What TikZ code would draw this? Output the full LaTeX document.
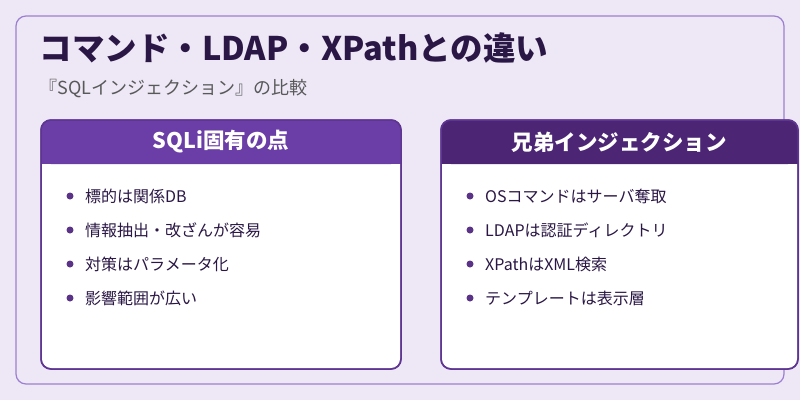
\documentclass[tikz,border=0pt]{standalone}
\usepackage{fontspec}
\setmainfont{Noto Sans CJK JP}
\usetikzlibrary{positioning}
\definecolor{bgpage}{HTML}{EDE7F6}
\definecolor{frameline}{HTML}{9C7FD0}
\definecolor{titleink}{HTML}{2A1745}
\definecolor{headleft}{HTML}{6A3EA6}
\definecolor{headright}{HTML}{4C2575}
\definecolor{cardline}{HTML}{5E3592}
\definecolor{dotink}{HTML}{5A3288}
\tikzset{
  cardbox/.style={draw=cardline,line width=1.5pt,fill=white,rounded corners=10pt},
  cardhead/.style={font=\bfseries\fontsize{21.5}{24}\selectfont,text=white},
  item/.style={anchor=west,font=\fontsize{16}{18}\selectfont,text=titleink},
  dot/.style={circle,fill=dotink,inner sep=0pt,minimum size=7pt}
}
\newcommand{\cardtop}[3]{%
  \fill[#3,rounded corners=10pt] (#1,120) rectangle (#2,164);
  \fill[#3] (#1,150) rectangle (#2,164);}
\begin{document}
\begin{tikzpicture}[x=1pt,y=-1pt]
\useasboundingbox (0,0) rectangle (800,400);
\fill[bgpage] (0,0) rectangle (800,400);
\draw[frameline,line width=1.2pt,rounded corners=10pt] (16,16) rectangle (784,384);
% 見出し
\node[anchor=west,font=\bfseries\fontsize{32.5}{36}\selectfont,text=titleink] (title) at (36,48) {コマンド・LDAP・XPathとの違い};
\node[anchor=west,font=\fontsize{18}{20}\selectfont,text=black!65] (sub) at (36,89) {『SQLインジェクション』の比較};
% 左カード
\draw[cardbox] (41,120) rectangle (401,369);
\cardtop{41}{401}{headleft}
\draw[cardline,line width=1.5pt,rounded corners=10pt] (41,120) rectangle (401,369);
\node[cardhead] (lh) at (221,142) {SQLi固有の点};
% 右カード
\draw[cardbox] (441,120) rectangle (798,369);
\cardtop{441}{798}{headright}
\draw[cardline,line width=1.5pt,rounded corners=10pt] (441,120) rectangle (798,369);
\node[cardhead] (rh) at (619,142) {兄弟インジェクション};
% 項目
\foreach \t [count=\i] in {標的は関係DB,情報抽出・改ざんが容易,対策はパラメータ化,影響範囲が広い}{
  \node[dot] (ld\i) at (70,162+34*\i) {};
  \node[item,right=8pt of ld\i] (lt\i) {\t};
}
\foreach \t [count=\i] in {OSコマンドはサーバ奪取,LDAPは認証ディレクトリ,XPathはXML検索,テンプレートは表示層}{
  \node[dot] (rd\i) at (470,162+34*\i) {};
  \node[item,right=8pt of rd\i] (rt\i) {\t};
}
\end{tikzpicture}
\end{document}
